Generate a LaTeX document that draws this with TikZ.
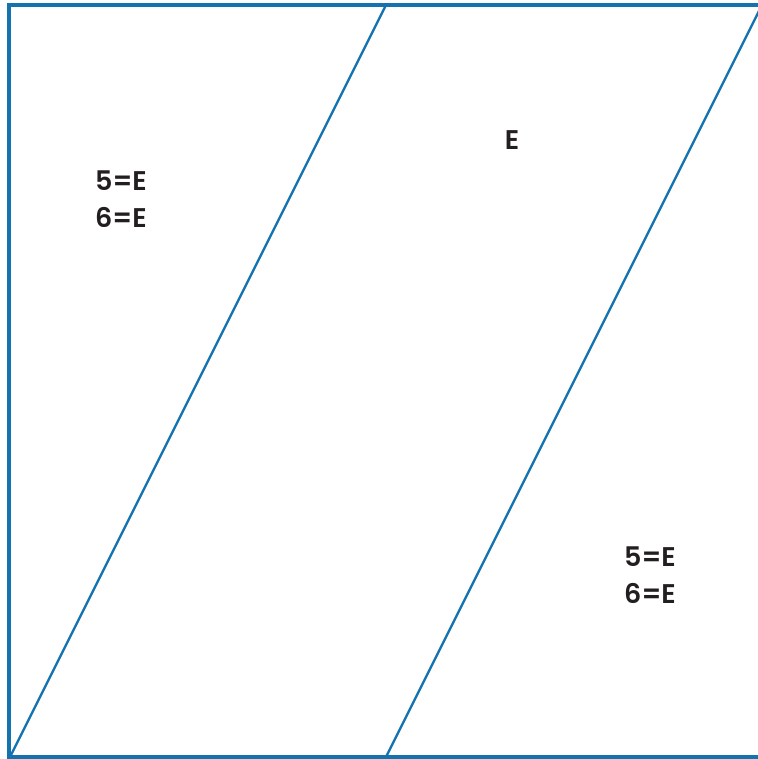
\documentclass[tikz,border=0pt]{standalone}
\usepackage{fontspec}
\setmainfont{Poppins}[BoldFont=* SemiBold]
\usepackage{tikz}
\definecolor{edgeblue}{HTML}{1473AE}
\definecolor{inkgray}{HTML}{231F20}

\begin{document}
\begin{tikzpicture}[
  x=0.5pt,y=-0.5pt,
  frame/.style={draw=edgeblue,line width=1.6pt},
  slant/.style={draw=edgeblue,line width=1.15pt},
  lbl/.style={font=\fontsize{13.5}{18.5}\selectfont\bfseries,color=inkgray,align=center},
]
  \useasboundingbox (0,0) rectangle (757,759);

  % corners of the sheet
  \coordinate (tl) at (9,5);
  \coordinate (bl) at (9,757);
  \coordinate (tr) at (765,5);
  \coordinate (br) at (765,757);

  % feet and heads of the slanted cuts
  \coordinate (footA) at (10,757);
  \coordinate (headA) at (386,5);
  \coordinate (footB) at (386,757);
  \coordinate (headB) at (762,5);

  \draw[frame] (br) -- (bl) -- (tl) -- (tr);
  \draw[slant] (footA) -- (headA);
  \draw[slant] (footB) -- (headB);

  % labels
  \node[lbl] (leftlbl) at (121,199) {5=E\\6=E};
  \node[lbl] (midlbl) at (512,140) {E};
  \node[lbl] (rightlbl) at (650,575) {5=E\\6=E};
\end{tikzpicture}
\end{document}
